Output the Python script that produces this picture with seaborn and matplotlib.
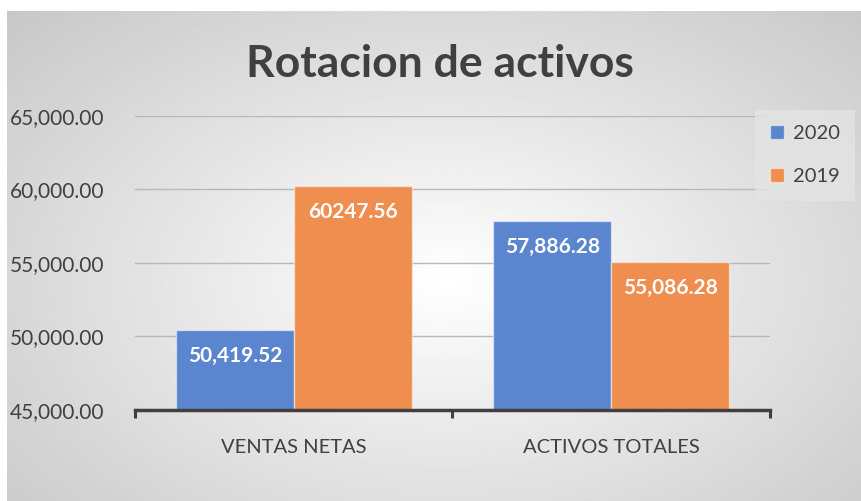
import numpy as np
import pandas as pd
import seaborn as sns
import matplotlib.pyplot as plt

# data
categories = ["VENTAS NETAS", "ACTIVOS TOTALES"]
years = ["2020", "2019"]
values_2020 = [50419.52, 57886.28]
values_2019 = [60247.56, 55086.28]
labels_2020 = ["50,419.52", "57,886.28"]
labels_2019 = ["60247.56", "55,086.28"]
y_ticks = [45000, 50000, 55000, 60000, 65000]

df = pd.DataFrame({
    "categoria": categories * 2,
    "anio": [years[0]] * 2 + [years[1]] * 2,
    "valor": values_2020 + values_2019,
})

sns.set_style("white")
plt.rcParams["font.family"] = ["Lato", "DejaVu Sans"]
text_color = "#404040"
colors = {"2020": "#5B86CF", "2019": "#EF8E4E"}

fig = plt.figure(figsize=(8.62, 5.01), dpi=100)
fig.patch.set_facecolor("white")

# radial gradient background of the chart area
bg = fig.add_axes([7 / 862, 0, 1 - 7 / 862, 1 - 11 / 501], zorder=-10)
gx, gy = np.meshgrid(np.linspace(0, 855, 400), np.linspace(0, 490, 240))
d = np.sqrt(((gx - 440) / 520) ** 2 + ((gy - 270) / 330) ** 2)
shade = 1 - 0.25 * np.clip(d, 0, 1.35) / 1.35
bg.imshow(shade, cmap="gray", vmin=0, vmax=1, aspect="auto", extent=[0, 1, 0, 1])
bg.axis("off")

ax = fig.add_axes([135 / 862, 1 - 410 / 501, 635 / 862, 294 / 501])
ax.patch.set_alpha(0)

sns.barplot(data=df, x="categoria", y="valor", hue="anio", hue_order=years,
            palette=colors, width=0.742, saturation=1, edgecolor=(1, 1, 1, 0.5),
            linewidth=1, ax=ax, legend=True, zorder=2)

ax.set_ylim(45000, 65000)
ax.set_xlim(-0.5, 1.5)
ax.set_yticks(y_ticks)
ax.set_yticklabels([f"{v:,.2f}" for v in y_ticks], fontsize=15, color=text_color)
ax.yaxis.grid(True, color="#b8b8b8", linewidth=1, zorder=1)
ax.set_axisbelow(True)
for s in ["top", "right", "left"]:
    ax.spines[s].set_visible(False)
ax.spines["bottom"].set_color(text_color)
ax.spines["bottom"].set_linewidth(2.5)
ax.spines["bottom"].set_zorder(5)
ax.tick_params(axis="y", length=0, pad=22)
ax.set_xticks([-0.5, 0.5, 1.5], minor=True)
ax.tick_params(axis="x", which="both", bottom=True)
ax.tick_params(axis="x", which="major", length=0, pad=21, labelsize=14.5, labelcolor=text_color)
ax.tick_params(axis="x", which="minor", length=6, width=2.2, color=text_color)
ax.set_xlabel("")
ax.set_ylabel("")

# value labels inside the top of each bar
for container, labs in zip(ax.containers, [labels_2020, labels_2019]):
    for bar, lab in zip(container, labs):
        ax.annotate(lab, (bar.get_x() + bar.get_width() / 2, bar.get_height()),
                    xytext=(0, -26), textcoords="offset pixels", ha="center", va="center",
                    fontsize=15, fontweight="bold", color="white", zorder=6)

leg = ax.legend(loc="upper right", bbox_to_anchor=(855 / 862, 1 - 110 / 501),
                bbox_transform=fig.transFigure, frameon=True, fontsize=14.5,
                handlelength=0.7, handleheight=0.7, labelspacing=1.3,
                borderpad=0.75, handletextpad=0.45, borderaxespad=0, fancybox=False)
leg.get_frame().set_facecolor("#e4e4e4")
leg.get_frame().set_alpha(0.8)
leg.get_frame().set_linewidth(0)
for t in leg.get_texts():
    t.set_color(text_color)

fig.text(440 / 862, 1 - 64 / 501, "Rotacion de activos", ha="center", va="center",
         fontsize=32, fontweight="bold", color=text_color)

fig.savefig("out.png", dpi=100)
